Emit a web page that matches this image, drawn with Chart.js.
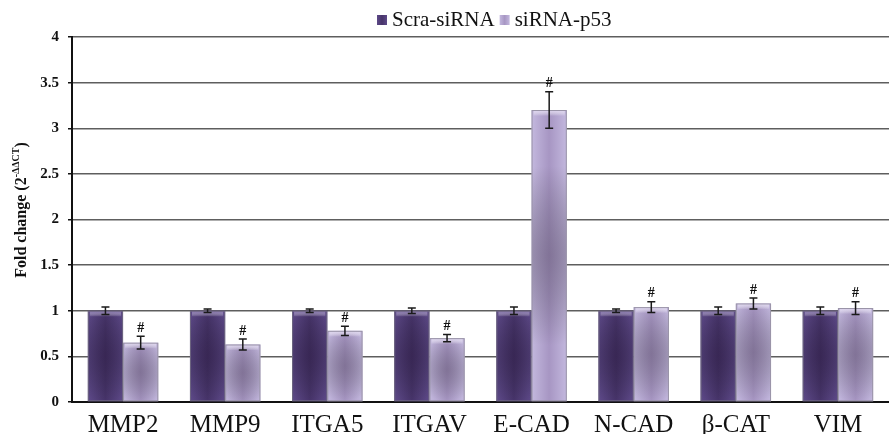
<!DOCTYPE html>
<html>
<head>
<meta charset="utf-8">
<script src="https://cdn.jsdelivr.net/npm/chart.js@4.4.1/dist/chart.umd.min.js"></script>
<style>
  html, body { margin: 0; padding: 0; background: #fff; }
  #wrap { width: 889px; height: 434px; position: relative; }
</style>
</head>
<body>
<div id="wrap"><canvas id="c" width="889" height="434"></canvas></div>
<script>
const categories = ['MMP2', 'MMP9', 'ITGA5', 'ITGAV', 'E-CAD', 'N-CAD', 'β-CAT', 'VIM'];
const seriesNames = ['Scra-siRNA', 'siRNA-p53'];
const scraValues = [1.00, 1.00, 1.00, 1.00, 1.00, 1.00, 1.00, 1.00];
const scraErrors = [0.04, 0.02, 0.02, 0.03, 0.04, 0.02, 0.04, 0.04];
const p53Values = [0.65, 0.63, 0.78, 0.70, 3.20, 1.04, 1.08, 1.03];
const p53Errors = [0.07, 0.06, 0.05, 0.04, 0.20, 0.06, 0.06, 0.07];
const p53Marks = ['#', '#', '#', '#', '#', '#', '#', '#'];
const yTickValues = [0, 0.5, 1, 1.5, 2, 2.5, 3, 3.5, 4];

const SERIF = '"Liberation Serif", "Times New Roman", serif';
const palette = [
  { edge: '#5d4988', mid: '#47346a', legend: '#4b3870', top: '#7a66a6', border: '#6d6680' },
  { edge: '#c3b8de', mid: '#a796c3', legend: '#a798c4', top: '#ddd4ee', border: '#9a94a8' }
];
const errorsBySeries = [scraErrors, p53Errors];
const marksBySeries = [null, p53Marks];

const gradientPlugin = {
  id: 'barGradient',
  beforeDatasetsDraw(chart) {
    const ctx = chart.ctx;
    chart.data.datasets.forEach((ds, di) => {
      const meta = chart.getDatasetMeta(di);
      meta.data.forEach(el => {
        const p = el.getProps(['x', 'width'], true);
        const g = ctx.createLinearGradient(p.x - p.width / 2, 0, p.x + p.width / 2, 0);
        g.addColorStop(0, palette[di].edge);
        g.addColorStop(0.5, palette[di].mid);
        g.addColorStop(1, palette[di].edge);
        el.options.backgroundColor = g;
      });
    });
  },
  afterDatasetsDraw(chart) {
    const ctx = chart.ctx;
    chart.data.datasets.forEach((ds, di) => {
      const meta = chart.getDatasetMeta(di);
      meta.data.forEach(el => {
        const p = el.getProps(['x', 'y', 'base', 'width'], true);
        const left = p.x - p.width / 2, right = p.x + p.width / 2;
        const h = p.base - p.y;
        ctx.save();
        ctx.beginPath();
        ctx.rect(left, p.y, p.width, h);
        ctx.clip();
        // dark radial centre
        const cy = p.y + h / 2;
        const r = Math.max(p.width * 0.9, Math.min(h * 0.5, 90));
        const rg = ctx.createRadialGradient(p.x, cy, 0, p.x, cy, r);
        rg.addColorStop(0, di === 0 ? 'rgba(30,15,45,0.35)' : 'rgba(60,50,70,0.35)');
        rg.addColorStop(1, 'rgba(0,0,0,0)');
        ctx.fillStyle = rg;
        ctx.fillRect(left, p.y, p.width, h);
        // top bevel highlight
        const tg = ctx.createLinearGradient(0, p.y, 0, p.y + 6);
        tg.addColorStop(0, palette[di].top);
        tg.addColorStop(1, 'rgba(255,255,255,0)');
        ctx.fillStyle = tg;
        ctx.fillRect(left + 2, p.y, p.width - 4, 6);
        ctx.restore();
        // thin border
        ctx.save();
        ctx.strokeStyle = palette[di].border;
        ctx.lineWidth = 1;
        ctx.strokeRect(left + 0.5, p.y + 0.5, p.width - 1, h - 1);
        ctx.restore();
      });
    });
  }
};

const errorPlugin = {
  id: 'errorBars',
  afterDatasetsDraw(chart) {
    const ctx = chart.ctx;
    const ys = chart.scales.y;
    chart.data.datasets.forEach((ds, di) => {
      const meta = chart.getDatasetMeta(di);
      const errs = errorsBySeries[di];
      meta.data.forEach((el, i) => {
        const v = ds.data[i];
        const e = errs[i];
        const x = el.x;
        const yTop = ys.getPixelForValue(v + e);
        const yBot = ys.getPixelForValue(v - e);
        ctx.save();
        ctx.strokeStyle = '#1a1a1a';
        ctx.lineWidth = 1.5;
        ctx.beginPath();
        ctx.moveTo(x, yTop); ctx.lineTo(x, yBot);
        ctx.moveTo(x - 4, yTop); ctx.lineTo(x + 4, yTop);
        ctx.moveTo(x - 4, yBot); ctx.lineTo(x + 4, yBot);
        ctx.stroke();
        const marks = marksBySeries[di];
        if (marks && marks[i]) {
          ctx.fillStyle = '#111';
          ctx.font = 'bold 14px ' + SERIF;
          ctx.textAlign = 'center';
          ctx.textBaseline = 'bottom';
          ctx.fillText(marks[i], x, yTop - 1);
        }
        ctx.restore();
      });
    });
  }
};

const yTitlePlugin = {
  id: 'yTitle',
  afterDraw(chart) {
    const ctx = chart.ctx;
    const main1 = 'Fold change (2';
    const sup = '-ΔΔCT';
    const main2 = ')';
    ctx.save();
    ctx.fillStyle = '#111';
    ctx.textBaseline = 'alphabetic';
    ctx.textAlign = 'left';
    const f1 = 'bold 16px ' + SERIF;
    const f2 = 'bold 10px ' + SERIF;
    ctx.font = f1; const w1 = ctx.measureText(main1).width; const w3 = ctx.measureText(main2).width;
    ctx.font = f2; const w2 = ctx.measureText(sup).width;
    const total = w1 + w2 + w3;
    const cx = 26, cy = 210;
    ctx.translate(cx, cy);
    ctx.rotate(-Math.PI / 2);
    let x = -total / 2;
    ctx.font = f1; ctx.fillText(main1, x, 0); x += w1;
    ctx.font = f2; ctx.fillText(sup, x, -7); x += w2;
    ctx.font = f1; ctx.fillText(main2, x, 0);
    ctx.restore();
  }
};

const legendPlugin = {
  id: 'customLegend',
  afterDraw(chart) {
    const ctx = chart.ctx;
    ctx.save();
    ctx.font = '21px ' + SERIF;
    ctx.textBaseline = 'alphabetic';
    ctx.textAlign = 'left';
    let x = 377;
    const baseY = 26;
    seriesNames.forEach((name, i) => {
      const g = ctx.createLinearGradient(x, 0, x + 10, 0);
      g.addColorStop(0, palette[i].edge);
      g.addColorStop(0.5, palette[i].mid);
      g.addColorStop(1, palette[i].edge);
      ctx.fillStyle = g;
      ctx.fillRect(x, 15, 10, 10);
      ctx.fillStyle = '#111';
      ctx.fillText(name, x + 15, baseY);
      x += 15 + ctx.measureText(name).width + 5;
    });
    ctx.restore();
  }
};

new Chart(document.getElementById('c'), {
  type: 'bar',
  data: {
    labels: categories,
    datasets: [
      { label: seriesNames[0], data: scraValues, backgroundColor: () => palette[0].legend, borderWidth: 0,
        categoryPercentage: 0.69, barPercentage: 1.0 },
      { label: seriesNames[1], data: p53Values, backgroundColor: () => palette[1].legend, borderWidth: 0,
        categoryPercentage: 0.69, barPercentage: 1.0 }
    ]
  },
  options: {
    responsive: false,
    animation: false,
    layout: { padding: { top: 37, right: 0, left: 0, bottom: 0 } },
    plugins: {
      legend: { display: false },
      tooltip: { enabled: false }
    },
    scales: {
      x: {
        grid: { display: false },
        border: { display: true, color: '#111', width: 2 },
        ticks: { color: '#111', font: { family: SERIF, size: 25 }, padding: 0, maxRotation: 0 },
        afterFit(scale) { scale.height = 32; }
      },
      y: {
        min: 0, max: 4,
        afterBuildTicks(scale) { scale.ticks = yTickValues.map(v => ({ value: v })); },
        grid: { color: '#5e5e5e', lineWidth: 1.5, drawTicks: true, tickLength: 4, tickColor: '#111' },
        border: { display: true, color: '#111', width: 2 },
        ticks: { color: '#111', font: { family: SERIF, size: 15, weight: 'bold' }, padding: 9,
          callback: (v) => String(v) },
        afterFit(scale) { scale.width = 72; }
      }
    }
  },
  plugins: [gradientPlugin, errorPlugin, yTitlePlugin, legendPlugin]
});
</script>
</body>
</html>
